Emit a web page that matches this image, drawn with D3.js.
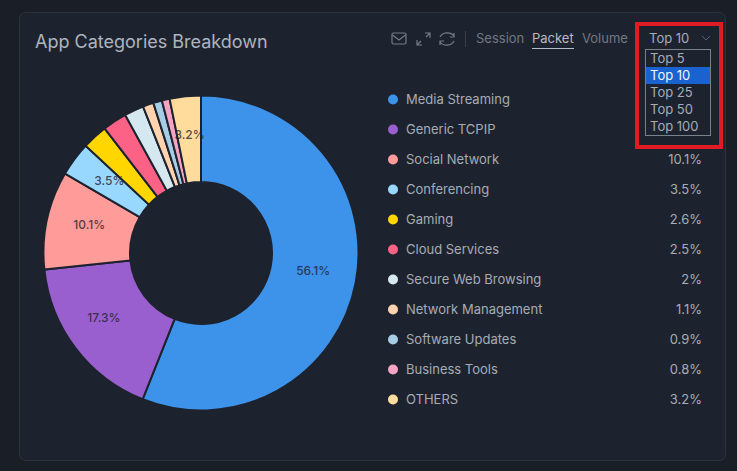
<!DOCTYPE html>
<html>
<head>
<meta charset="utf-8">
<script src="https://cdn.jsdelivr.net/npm/d3@7"></script>
<style>
  html, body { margin: 0; padding: 0; background: #1a1f27; }
  svg { display: block; font-family: Inter, "Noto Sans", sans-serif; }
</style>
</head>
<body>
<svg id="chart" width="737" height="471"></svg>
<script>
const categories = ["Media Streaming", "Generic TCPIP", "Social Network", "Conferencing", "Gaming", "Cloud Services", "Secure Web Browsing", "Network Management", "Software Updates", "Business Tools", "OTHERS"];
const shares = [56.1, 17.3, 10.1, 3.5, 2.6, 2.5, 2, 1.1, 0.9, 0.8, 3.2];
const sliceColors = ["#3d93ea", "#9a5fcf", "#ff9c99", "#99d8fe", "#ffd600", "#fb6285", "#d5e8ef", "#ffd3ae", "#a6cce6", "#f4a3c3", "#ffdb9c"];
const labelledSlices = ["Media Streaming", "Generic TCPIP", "Social Network", "Conferencing", "OTHERS"];
// the open dropdown covers the values of these two rows
const coveredValues = ["Media Streaming", "Generic TCPIP"];
const metricTabs = ["Session", "Packet", "Volume"];
const topOptions = ["Top 5", "Top 10", "Top 25", "Top 50", "Top 100"];

const svg = d3.select("#chart");

// card
svg.append("rect")
  .attr("x", 19.5).attr("y", 12.5).attr("width", 706).attr("height", 448).attr("rx", 6)
  .attr("fill", "#1d232e").attr("stroke", "#2c333f");

svg.append("text")
  .attr("x", 35).attr("y", 48)
  .attr("font-size", 18).attr("fill", "#aeb4bd")
  .text("App Categories Breakdown");

// donut
const slices = categories.map((name, i) => ({ name: name, value: shares[i], color: sliceColors[i] }));
const pie = d3.pie().value(d => d.value).sort(null);
const arc = d3.arc().innerRadius(71).outerRadius(157.5);

const donut = svg.append("g").attr("transform", "translate(201,253)");

donut.selectAll("path")
  .data(pie(slices))
  .join("path")
  .attr("d", arc)
  .attr("fill", d => d.data.color)
  .attr("stroke", "#1d232e")
  .attr("stroke-width", 2);

donut.selectAll("text")
  .data(pie(slices).filter(d => labelledSlices.includes(d.data.name)))
  .join("text")
  .attr("x", d => arc.centroid(d)[0] + (d.data.name === "Generic TCPIP" ? -6 : 0))
  .attr("y", d => arc.centroid(d)[1])
  .attr("text-anchor", "middle")
  .attr("font-size", 12)
  .attr("font-weight", 500)
  .attr("fill", "#1d232e")
  .attr("fill-opacity", 0.8)
  .text(d => d.data.value + "%");

// legend
const legendY = d3.scalePoint().domain(categories).range([99, 399]);

const rows = svg.append("g").selectAll("g")
  .data(slices)
  .join("g")
  .attr("transform", d => `translate(0,${legendY(d.name)})`);

rows.append("circle")
  .attr("cx", 393).attr("cy", 0.5).attr("r", 5)
  .attr("fill", d => d.color);

rows.append("text")
  .attr("x", 406).attr("y", 5)
  .attr("font-size", 13).attr("fill", "#a6acb6")
  .text(d => d.name);

rows.filter(d => !coveredValues.includes(d.name)).append("text")
  .attr("x", 702).attr("y", 5)
  .attr("text-anchor", "end")
  .attr("font-size", 13).attr("fill", "#a6acb6")
  .text(d => d.value + "%");

// toolbar icons
const icons = svg.append("g")
  .attr("fill", "none").attr("stroke", "#757c88").attr("stroke-width", 1.2);
icons.append("rect").attr("x", 392).attr("y", 33).attr("width", 14).attr("height", 11).attr("rx", 1.5);
icons.append("path").attr("d", "M392.5 35 L399 40 L405.5 35");
icons.append("path").attr("d", "M417 45 L421 41 M426 37 L430 33 M425 33 H430 V38 M417 40 V45 H422");
icons.append("path").attr("d", "M440 37 A8 7 0 0 1 454 36 M454 33 V37 H450 M454 41 A8 7 0 0 1 440 42 M440 45 V41 H444");
svg.append("line")
  .attr("x1", 465.5).attr("x2", 465.5).attr("y1", 31).attr("y2", 47)
  .attr("stroke", "#39404c");

// metric tabs
const tabX = [476, 532, 582];
svg.append("g").selectAll("text")
  .data(metricTabs)
  .join("text")
  .attr("x", (d, i) => tabX[i]).attr("y", 43)
  .attr("font-size", 13)
  .attr("fill", d => d === "Packet" ? "#b6bbc4" : "#717884")
  .text(d => d);
svg.append("line")
  .attr("x1", 532).attr("x2", 574).attr("y1", 48.5).attr("y2", 48.5)
  .attr("stroke", "#b6bbc4");

// dropdown
svg.append("text")
  .attr("x", 649).attr("y", 43)
  .attr("font-size", 13).attr("fill", "#a6acb6")
  .text("Top 10");
svg.append("path")
  .attr("d", "M702 36 L706 40 L710 36")
  .attr("fill", "none").attr("stroke", "#596070");

const optionY = d3.scaleBand().domain(topOptions).range([50, 135]);

svg.append("rect")
  .attr("x", 645.5).attr("y", 49.5).attr("width", 65).attr("height", 86)
  .attr("fill", "#1d232e").attr("stroke", "#7b818b");
svg.append("rect")
  .attr("x", 646).attr("y", optionY("Top 10")).attr("width", 64).attr("height", optionY.bandwidth())
  .attr("fill", "#1a62cf");
svg.append("g").selectAll("text")
  .data(topOptions)
  .join("text")
  .attr("x", 650)
  .attr("y", d => optionY(d) + 13)
  .attr("font-size", 13)
  .attr("fill", d => d === "Top 10" ? "#f1f4f8" : "#a6acb6")
  .text(d => d);

// red highlight box
svg.append("rect")
  .attr("x", 637).attr("y", 24).attr("width", 84).attr("height", 123)
  .attr("fill", "none").attr("stroke", "#e01b24").attr("stroke-width", 4);
</script>
</body>
</html>
